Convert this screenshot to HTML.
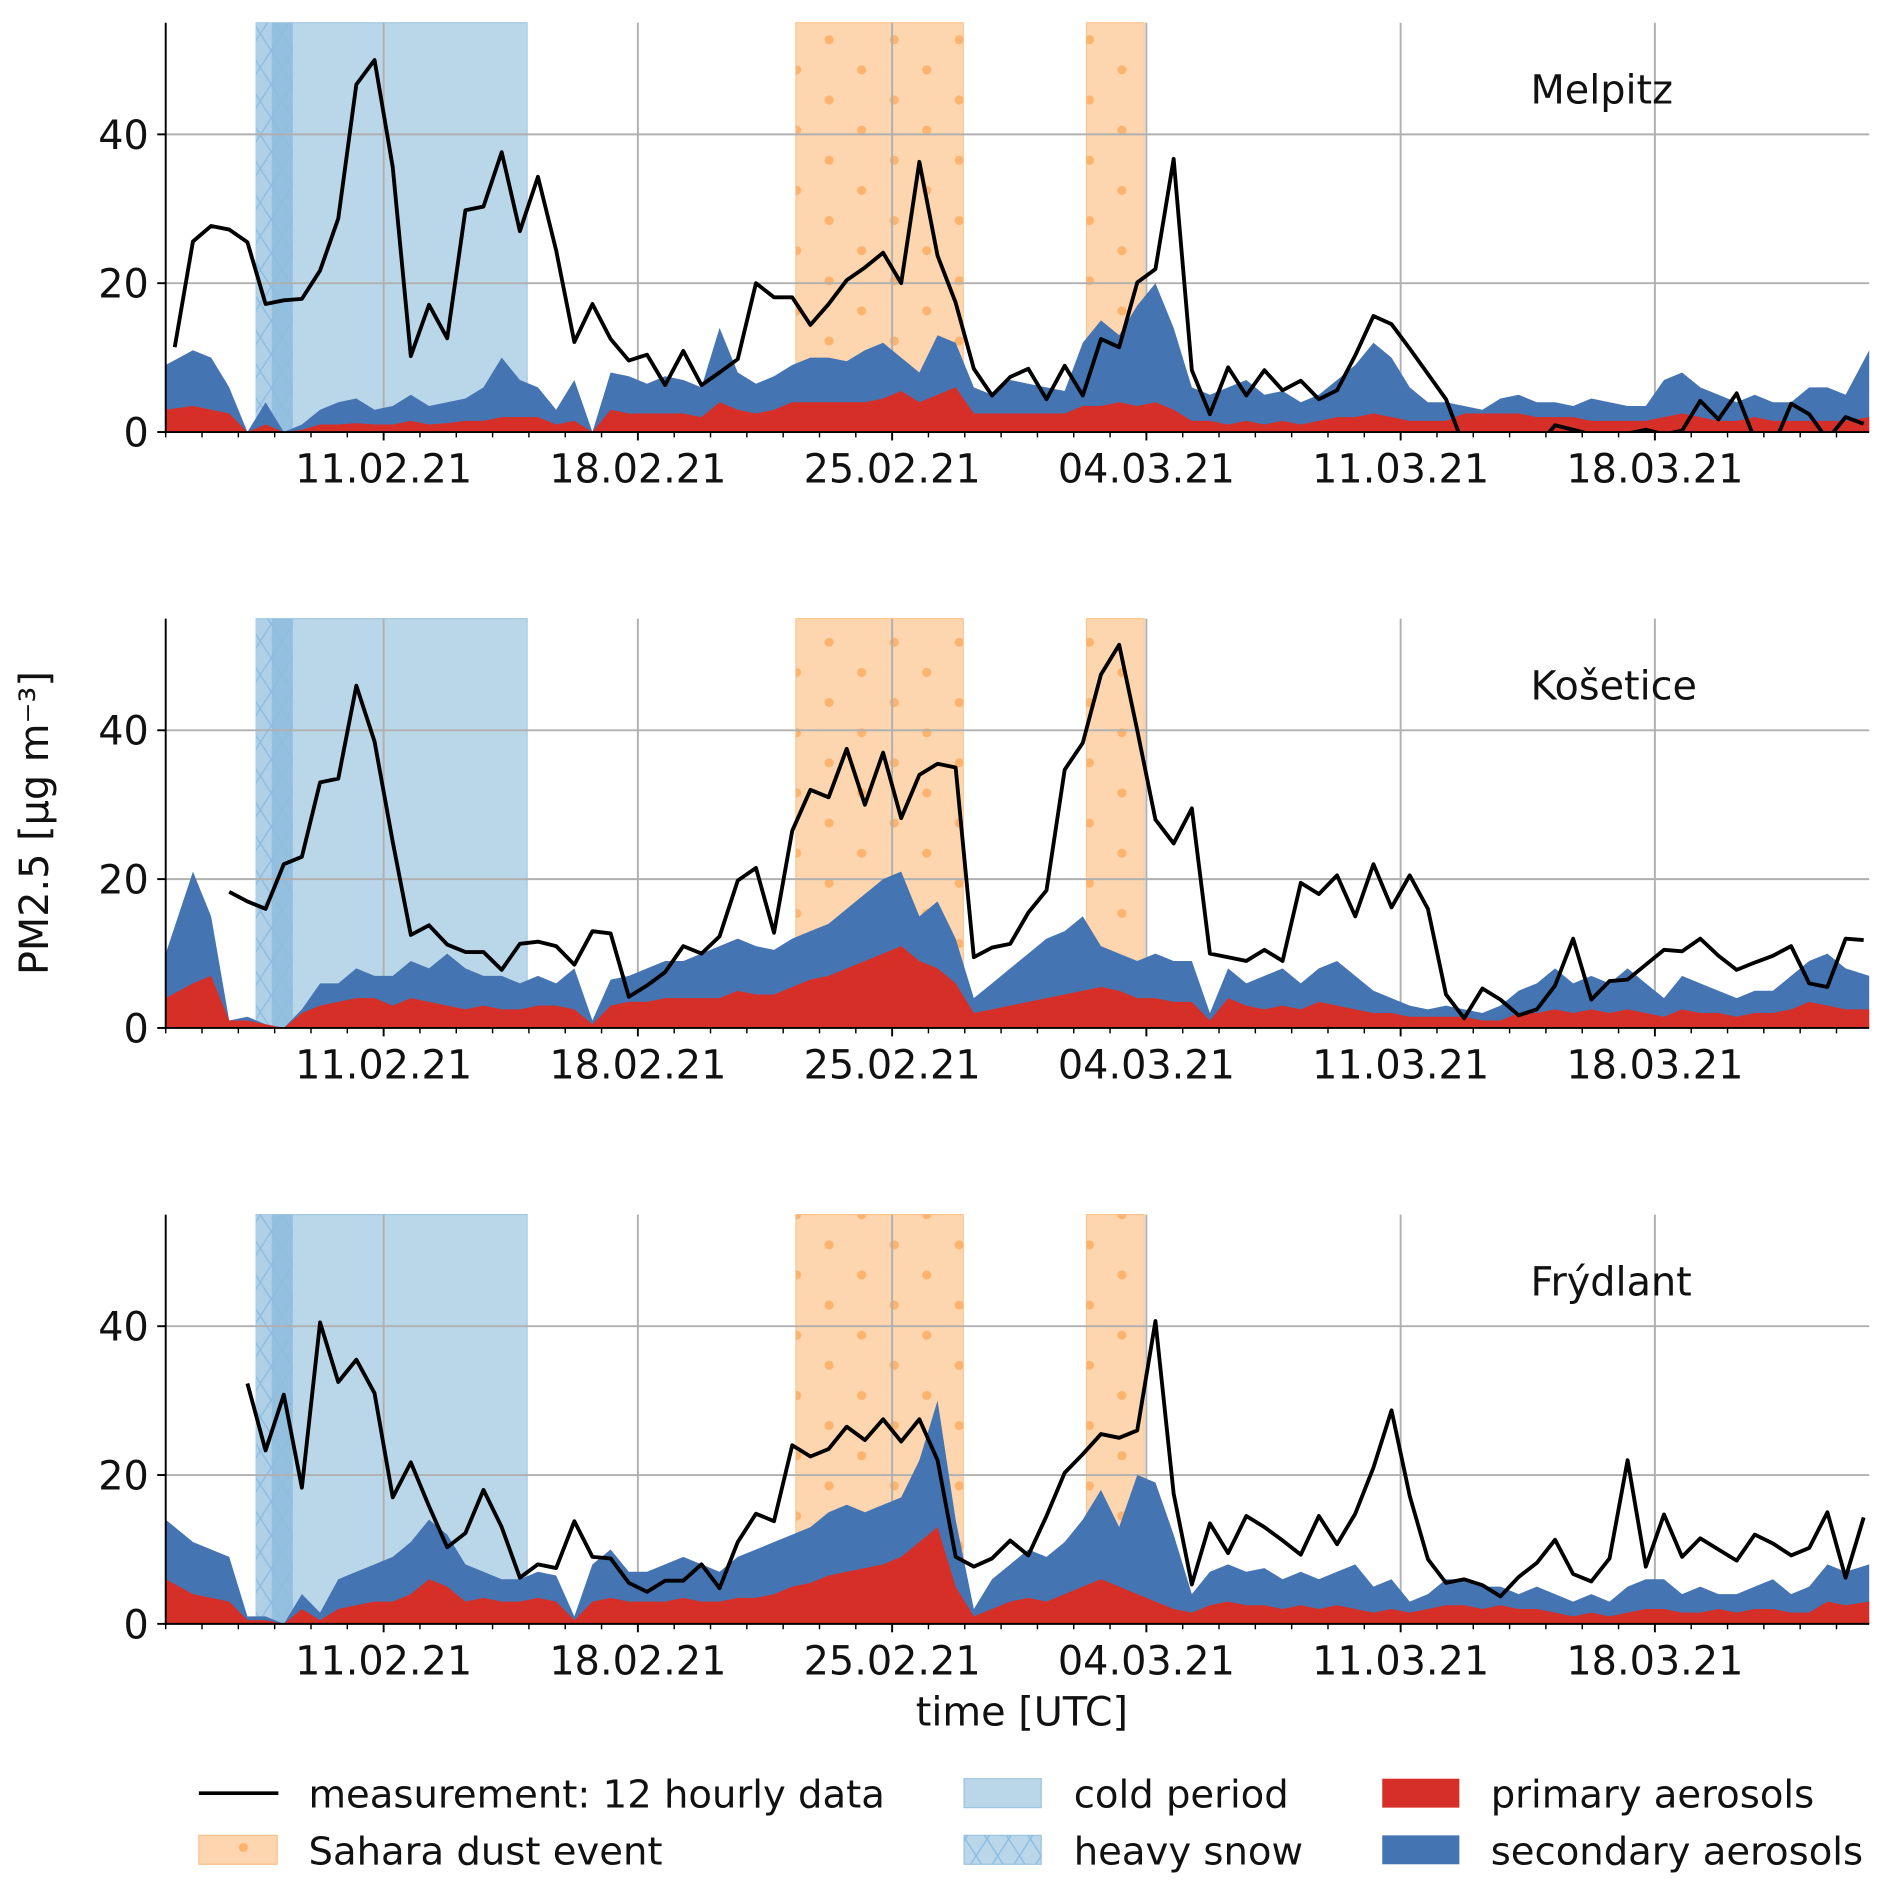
<!DOCTYPE html>
<html><head><meta charset="utf-8"><style>
html,body{margin:0;padding:0;background:#fff}
svg{display:block}
text{font-family:"DejaVu Sans","Liberation Sans",sans-serif;fill:#111}
</style></head><body>
<svg id="chart" width="1892" height="1892" viewBox="0 0 1570 1570" xmlns="http://www.w3.org/2000/svg">
<defs>
<pattern id="dots" patternUnits="userSpaceOnUse" width="54" height="100" x="0" y="0">
<circle cx="13" cy="8" r="3.8" fill="#fbb36e"/><circle cx="40" cy="33" r="3.8" fill="#fbb36e"/>
<circle cx="13" cy="58" r="3.8" fill="#fbb36e"/><circle cx="40" cy="83" r="3.8" fill="#fbb36e"/>
</pattern>
<pattern id="hatch" patternUnits="userSpaceOnUse" width="18" height="28">
<path d="M0,0 L18,28 M18,0 L0,28" stroke="#8dbde0" stroke-width="1.2" fill="none"/>
</pattern>
</defs>
<g id="panels"></g>
<text x="0" y="0" font-size="33" text-anchor="middle" transform="translate(40,683) rotate(-90)">PM2.5 [µg m⁻³]</text>
<text x="848" y="1432" font-size="33" text-anchor="middle">time [UTC]</text>
<g>
 <line x1="165" y1="1488" x2="231" y2="1488" stroke="#000" stroke-width="3"/>
 <text x="256" y="1500" font-size="32">measurement: 12 hourly data</text>
 <rect x="165" y="1523" width="65" height="24" fill="#fdd5ae" stroke="#fbc08a"/>
 <rect x="165" y="1523" width="65" height="24" fill="url(#dots)"/>
 <text x="256" y="1547" font-size="32">Sahara dust event</text>
 <rect x="800" y="1476" width="64" height="24" fill="#bad6e9" stroke="#9cc3e0"/>
 <text x="891" y="1500" font-size="32">cold period</text>
 <rect x="800" y="1523" width="64" height="24" fill="#bad6e9" stroke="#9cc3e0"/>
 <rect x="800" y="1523" width="64" height="24" fill="url(#hatch)"/>
 <text x="891" y="1547" font-size="32">heavy snow</text>
 <rect x="1147" y="1476" width="64" height="24" fill="#d62f27"/>
 <text x="1237" y="1500" font-size="32">primary aerosols</text>
 <rect x="1147" y="1523" width="64" height="24" fill="#4574b3"/>
 <text x="1237" y="1547" font-size="32">secondary aerosols</text>
</g>
</svg>
<script>
// time in days since 05.02.21 00:00; samples are 12-hourly starting 06:00
const stations = ["Melpitz","Košetice","Frýdlant"];
const xTickLabels = ["11.02.21","18.02.21","25.02.21","04.03.21","11.03.21","18.03.21"];
const xTickDays = [6,13,20,27,34,41];
const yTicks = [0,20,40];
const coldPeriod = [2.49,9.95];
const snowPeriod = [2.49,3.5];
const snowDense = [2.92,3.5];
const saharaEvents = [[17.35,21.96],[25.35,26.94]];

const melpitzMeas = [11.4,25.6,27.7,27.2,25.5,17.2,17.7,17.9,21.7,28.7,46.7,50,35.6,10.2,17.1,12.6,29.8,30.3,37.6,27,34.3,24.4,12.1,17.2,12.5,9.6,10.4,6.3,10.9,6.3,8,9.8,20,18.1,18.1,14.4,17.2,20.4,22.1,24.1,20,36.3,23.7,17.4,8.5,4.9,7.4,8.5,4.4,8.9,4.9,12.5,11.4,20.1,21.9,36.7,8.3,2.4,8.7,4.9,8.3,5.6,6.9,4.4,5.6,10.3,15.6,14.5,11.2,7.8,4.4,-2,-3,-3,-3,-2,0.9,0.3,-0.3,-0.5,-0.2,0.3,-0.3,0.2,4.2,1.7,5.2,-1,-2,3.8,2.4,-1,2,1.1];
const melpitzPrimary = [3,3.5,3,2.5,0,1,0,0.3,1,1,1.2,1,1,1.5,1,1.2,1.5,1.5,2,2,2,1,1.5,0,3,2.5,2.5,2.5,2.5,2,4,3,2.5,3,4,4,4,4,4,4.5,5.5,4,5,6,2.5,2.5,2.5,2.5,2.5,2.5,3.5,3.5,4,3.5,4,3,1.5,1.5,1,1.5,1,1.5,1,1.5,2,2,2.5,2,1.5,1.5,1.5,2.5,2.5,2.5,2.5,2,2,2,1.5,1.5,1.5,1.5,2,2.5,2,1.5,1.5,2,1.5,1.5,1.5,1.5,1.5,2];
const melpitzTotal = [9,11,10,6,0,4,0,1,3,4,4.5,3,3.5,5,3.5,4,4.5,6,10,7,6,3,7,0,8,7.5,6.5,7.5,7,6,14,8,6.5,7.5,9,10,10,9.5,11,12,10,8,13,12,6,5,7,6.5,6,5.5,12,15,13,17,20,14,6,5,6,7,5,5.5,4,5,7,9,12,10,6,4,4,3.5,3,4.5,5,4,4,3.5,4.5,4,3.5,3.5,7,8,6,5,4,5,4,4,6,6,5,11];

const kosMeas = [null,null,null,18.3,17,16,22,23,33,33.5,46,38.5,25,12.5,13.8,11.2,10.2,10.2,7.8,11.3,11.6,11,8.5,13,12.7,4.2,5.7,7.5,11,10,12.3,19.8,21.5,12.8,26.5,32,31,37.5,30,37,28.2,34,35.5,35,9.5,10.8,11.3,15.5,18.5,34.7,38.3,47.5,51.5,40,28,24.8,29.5,10,9.5,9,10.5,9,19.5,18,20.5,15,22,16.2,20.5,16,4.5,1.3,5.3,3.8,1.7,2.5,5.7,12,3.8,6.3,6.5,8.5,10.5,10.3,12,9.7,7.8,8.8,9.7,11,6,5.5,12,11.8];
const kosPrimary = [4,6,7,1,1,0.5,0,2,3,3.5,4,4,3,4,3.5,3,2.5,3,2.5,2.5,3,3,2.5,0.5,3,3.5,3.5,4,4,4,4,5,4.5,4.5,5.5,6.5,7,8,9,10,11,9,8,6,2,2.5,3,3.5,4,4.5,5,5.5,5,4,4,3.5,3.5,1,4,3,2.5,3,2.5,3.5,3,2.5,2,2,1.5,1.5,1.5,1.5,1,1,2,2,2.5,2,2.5,2,2.5,2,1.5,2.5,2,2,1.5,2,2,2.5,3.5,3,2.5,2.5];
const kosTotal = [10,21,15,1,1.5,0.5,0,2.5,6,6,8,7,7,9,8,10,8,7,7,6,7,6,8,1,6.5,7,8,9,9,10,11,12,11,10.5,12,13,14,16,18,20,21,15,17,12,4,6,8,10,12,13,15,11,10,9,10,9,9,2,8,6,7,8,6,8,9,7,5,4,3,2.5,3,2.5,2,3,5,6,8,6,7,6,8,6,4,7,6,5,4,5,5,7,9,10,8,7];

const fryMeas = [null,null,null,null,32.3,23.3,30.8,18.3,40.5,32.5,35.5,31,17,21.7,15.8,10.3,12.2,18,13,6.2,8,7.5,13.8,9,8.8,5.5,4.3,5.8,5.8,8,4.8,11,14.8,13.8,24,22.5,23.5,26.5,24.7,27.5,24.5,27.5,22,9,7.7,8.8,11.2,9.2,14.5,20.3,22.8,25.5,25,26,40.7,17.5,5.3,13.5,9.5,14.5,13,11.2,9.3,14.5,10.7,14.8,21,28.7,17.2,8.7,5.5,6,5.2,3.7,6.3,8.2,11.3,6.7,5.7,8.8,22,7.7,14.7,9,11.5,10,8.5,12,10.8,9.2,10.2,15,6.2,14.3];
const fryPrimary = [6,4,3.5,3,0.5,0.5,0,2,0.5,2,2.5,3,3,4,6,5,3,3.5,3,3,3.5,3,0.5,3,3.5,3,3,3,3.5,3,3,3.5,3.5,4,5,5.5,6.5,7,7.5,8,9,11,13,5,1,2,3,3.5,3,4,5,6,5,4,3,2,1.5,2.5,3,2.5,2.5,2,2.5,2,2.5,2,1.5,2,1.5,2,2.5,2.5,2,2.5,2,2,1.5,1,1.5,1,1.5,2,2,1.5,1.5,2,1.5,2,2,1.5,1.5,3,2.5,3];
const fryTotal = [14,11,10,9,1,1,0,4,1.5,6,7,8,9,11,14,12,8,7,6,6,7,6.5,1,8,10,7,7,8,9,8,7,9,10,11,12,13,15,16,15,16,17,22,30,14,2,6,8,10,9,11,14,18,13,20,19,12,4,7,8,7,7.5,6,7,6,7,8,5,6,3,4,6,6,5,5,4,5,4,3,4,3,5,6,6,4,5,4,4,5,6,4,5,8,7,8];

const measSeries = [melpitzMeas,kosMeas,fryMeas];
const primarySeries = [melpitzPrimary,kosPrimary,fryPrimary];
const totalSeries = [melpitzTotal,kosTotal,fryTotal];

const NS="http://www.w3.org/2000/svg";
const X0=137.5, PXDAY=30.14, TMAX=46.9, YMAX=55, PXUNIT=6.175;
const panelBottoms=[358.5,853,1347.5];
function xScale(t){return X0+t*PXDAY;}
function tOf(i){return 0.25+0.5*i;}
function mk(tag,attrs,parent){const e=document.createElementNS(NS,tag);for(const k in attrs)e.setAttribute(k,attrs[k]);parent.appendChild(e);return e;}
const root=document.getElementById('panels');
const XR=xScale(TMAX);
panelBottoms.forEach((yb,p)=>{
  const yScale=v=>yb-v*PXUNIT;
  const top=yScale(YMAX);
  const g=mk('g',{},root);
  
  
  const cid='clip'+p;
  const cp=mk('clipPath',{id:cid},g);mk('rect',{x:X0,y:top,width:XR-X0,height:yb-top},cp);
  const cold=mk('rect',{x:xScale(coldPeriod[0]),y:top,width:xScale(coldPeriod[1])-xScale(coldPeriod[0]),height:yb-top,fill:'#bad6e9',stroke:'#a3c8e3','stroke-width':1},g);
  
  
  mk('rect',{x:xScale(snowPeriod[0]),y:top,width:xScale(snowPeriod[1])-xScale(snowPeriod[0]),height:yb-top,fill:'#b0d0e8'},g);
  mk('rect',{x:xScale(snowDense[0]),y:top,width:xScale(snowDense[1])-xScale(snowDense[0]),height:yb-top,fill:'#94bfdf'},g);
  const sn=mk('rect',{x:xScale(snowPeriod[0]),y:top,width:xScale(snowPeriod[1])-xScale(snowPeriod[0]),height:yb-top,fill:'url(#hatch)'},g);
  
  
  saharaEvents.forEach(ev=>{
    const r=mk('rect',{x:xScale(ev[0]),y:top,width:xScale(ev[1])-xScale(ev[0]),height:yb-top,fill:'#fdd5ae',stroke:'#fbc690','stroke-width':1},g);
    
    
    mk('rect',{x:xScale(ev[0]),y:top,width:xScale(ev[1])-xScale(ev[0]),height:yb-top,fill:'url(#dots)'},g);
  });
  yTicks.slice(1).forEach(v=>{mk('line',{x1:X0,x2:XR,y1:yScale(v),y2:yScale(v),stroke:'#b0b0b0','stroke-width':1.6},g);});
  xTickDays.forEach(d=>{mk('line',{x1:xScale(d),x2:xScale(d),y1:top,y2:yb,stroke:'#b0b0b0','stroke-width':1.6},g);});
  const prim=primarySeries[p], tot=totalSeries[p], n=prim.length;
  const xs=prim.map((_,i)=>i===0?X0:(i===n-1?XR:xScale(tOf(i))));
  let dTot='M'+X0+','+yb, dPrim='M'+X0+','+yb;
  for(let i=0;i<n;i++){dTot+=' L'+xs[i].toFixed(1)+','+yScale(tot[i]).toFixed(1);dPrim+=' L'+xs[i].toFixed(1)+','+yScale(prim[i]).toFixed(1);}
  dTot+=' L'+XR+','+yb+' Z'; dPrim+=' L'+XR+','+yb+' Z';
  const a1=mk('path',{d:dTot,fill:'#4574b3'},g);
  
  
  const a2=mk('path',{d:dPrim,fill:'#d62f27'},g);
  
  
  const m=measSeries[p];let d='',pen=false;
  m.forEach((v,i)=>{if(v===null){pen=false;return;}d+=(pen?' L':' M')+xScale(tOf(i)).toFixed(1)+','+yScale(v).toFixed(1);pen=true;});
  const ln=mk('path',{d:d,fill:'none',stroke:'#000','stroke-width':3.2,'stroke-linejoin':'round','clip-path':'url(#'+cid+')'},g);
  
  
  mk('line',{x1:X0,x2:X0,y1:top,y2:yb+1,stroke:'#000','stroke-width':1.6},g);
  mk('line',{x1:X0-1,x2:XR,y1:yb,y2:yb,stroke:'#000','stroke-width':1.6},g);
  for(let d=0;d<=46;d++){const major=xTickDays.indexOf(d)>=0;mk('line',{x1:xScale(d),x2:xScale(d),y1:yb,y2:yb+(major?7:4.5),stroke:'#000','stroke-width':major?1.6:1.2},g);}
  yTicks.forEach(v=>{mk('line',{x1:X0-7,x2:X0,y1:yScale(v),y2:yScale(v),stroke:'#000','stroke-width':1.6},g);
    const t=mk('text',{x:X0-14,y:yScale(v)+12,'font-size':33,'text-anchor':'end'},g);t.textContent=v;
    
    });
  xTickDays.forEach((d,k)=>{const t=mk('text',{x:xScale(d),y:yb+42,'font-size':33,'text-anchor':'middle'},g);t.textContent=xTickLabels[k];
    
    });
  const st=mk('text',{x:1270,y:top+67,'font-size':33},g);st.textContent=stations[p];
  
  
});
</script>
</body></html>
